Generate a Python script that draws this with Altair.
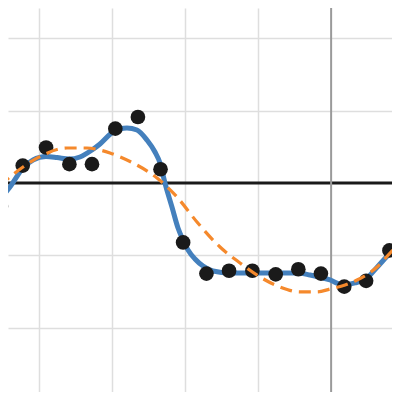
import altair as alt
import pandas as pd

# Observed points
pt_x = [-0.53, -0.23, 0.09, 0.41, 0.72, 1.04, 1.35, 1.66, 1.97, 2.29, 2.60, 2.92,
        3.24, 3.55, 3.86, 4.18, 4.48, 4.80]
pt_y = [-0.32, 0.24, 0.49, 0.26, 0.26, 0.75, 0.91, 0.19, -0.82, -1.25, -1.21, -1.21,
        -1.26, -1.19, -1.25, -1.43, -1.35, -0.93]

# Blue smooth fit
fit_x = [-0.542, -0.405, -0.226, -0.089, 0.089, 0.240, 0.405, 0.555, 0.720, 0.830,
         1.008, 1.200, 1.337, 1.474, 1.584, 1.653, 1.721, 1.817, 1.900, 1.968, 2.037,
         2.133, 2.243, 2.380, 2.613, 2.929, 3.244, 3.546, 3.711, 3.985, 4.163, 4.328,
         4.492, 4.643, 4.808, 4.945]
fit_y = [-0.221, -0.055, 0.207, 0.317, 0.365, 0.352, 0.331, 0.359, 0.455, 0.538,
         0.703, 0.759, 0.731, 0.593, 0.428, 0.276, 0.0, -0.331, -0.621, -0.786, -0.924,
         -1.048, -1.145, -1.214, -1.241, -1.241, -1.241, -1.241, -1.269, -1.338, -1.407,
         -1.379, -1.310, -1.148, -0.966, -0.828]

# Orange dashed fit
sin_x = [-0.542, -0.405, -0.226, 0.048, 0.377, 0.651, 0.830, 0.967, 1.283, 1.612,
         1.886, 2.160, 2.476, 2.750, 3.025, 3.299, 3.573, 3.806, 3.985, 4.191, 4.355,
         4.630, 4.808, 4.945]
sin_y = [-0.041, 0.083, 0.221, 0.386, 0.483, 0.483, 0.455, 0.414, 0.276, 0.069,
         -0.193, -0.538, -0.883, -1.103, -1.297, -1.434, -1.503, -1.503, -1.462, -1.407,
         -1.338, -1.159, -0.966, -0.828]

x_grid = [0, 1, 2, 3]
y_grid = [-2, -1, 1, 2]
x_dom = [-0.432, 4.835]
y_dom = [-2.883, 2.414]

pts = pd.DataFrame({"x": pt_x, "y": pt_y})
fit = pd.DataFrame({"x": fit_x, "y": fit_y})
sin = pd.DataFrame({"x": sin_x, "y": sin_y})

xs = alt.Scale(domain=x_dom, nice=False, zero=False)
ys = alt.Scale(domain=y_dom, nice=False, zero=False)
xa = alt.Axis(grid=True, values=x_grid, labels=False, ticks=False, domain=False,
              title=None, gridColor="#dedede", gridWidth=1.5)
ya = alt.Axis(grid=True, values=y_grid, labels=False, ticks=False, domain=False,
              title=None, gridColor="#dedede", gridWidth=1.5)

base_grid = alt.Chart(pts).mark_point(opacity=0).encode(
    x=alt.X("x:Q", scale=xs, axis=xa),
    y=alt.Y("y:Q", scale=ys, axis=ya),
)

hrule = alt.Chart(pd.DataFrame({"y": [0]})).mark_rule(color="#1a1a1a", strokeWidth=2.8).encode(
    y=alt.Y("y:Q", scale=ys)
)
vrule = alt.Chart(pd.DataFrame({"x": [4]})).mark_rule(color="#9a9a9a", strokeWidth=2).encode(
    x=alt.X("x:Q", scale=xs)
)

blue = alt.Chart(fit).mark_line(color="#4480bd", strokeWidth=5, interpolate="monotone", clip=True).encode(
    x=alt.X("x:Q", scale=xs), y=alt.Y("y:Q", scale=ys), order="x:Q"
)
dots = alt.Chart(pts).mark_circle(color="#1a1a1a", size=215, opacity=1, clip=True).encode(
    x=alt.X("x:Q", scale=xs), y=alt.Y("y:Q", scale=ys)
)
orange = alt.Chart(sin).mark_line(color="#f5892c", strokeWidth=3.2, strokeDash=[12, 7],
                                  interpolate="monotone", clip=True).encode(
    x=alt.X("x:Q", scale=xs), y=alt.Y("y:Q", scale=ys), order="x:Q"
)

chart = alt.layer(base_grid, hrule, vrule, blue, dots, orange).properties(
    width=384, height=384, padding=0, autosize="none"
).configure_view(strokeWidth=0)

chart.save("out.html", embed_options={"renderer": "svg", "actions": False})
